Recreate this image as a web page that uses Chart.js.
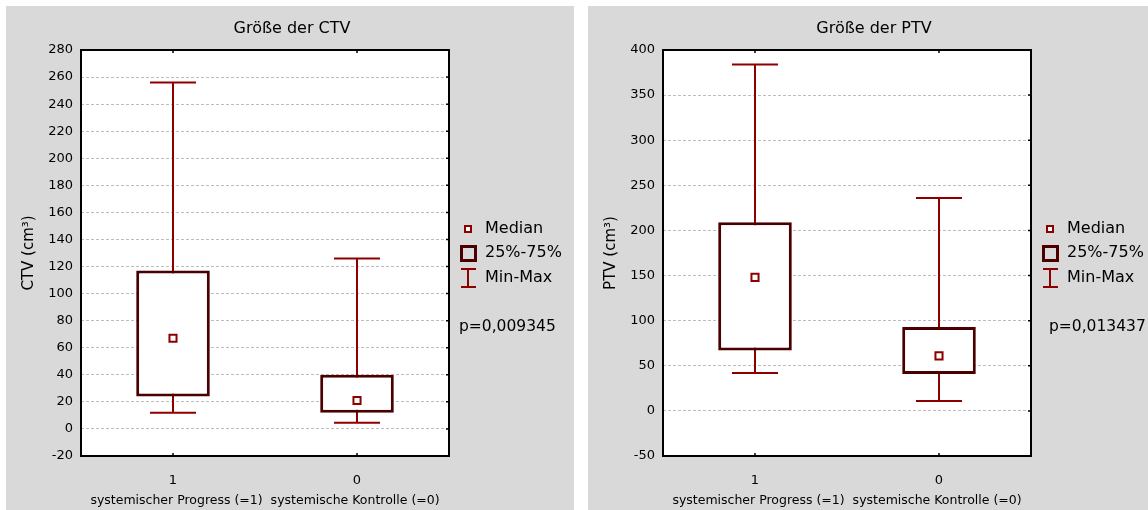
<!DOCTYPE html>
<html>
<head>
<meta charset="utf-8">
<script src="https://cdn.jsdelivr.net/npm/chart.js@4.4.1/dist/chart.umd.min.js"></script>
<style>
  body { margin: 0; background: #fff; width: 1148px; height: 510px; position: relative; overflow: hidden; }
  .panel { position: absolute; top: 6px; background: #d9d9d9; }
  .panel canvas { display: block; }
  #left { left: 6px; width: 568px; height: 504px; }
  #right { left: 588px; width: 560px; height: 504px; }
</style>
</head>
<body>
<div class="panel" id="left"><canvas id="ctvChart" width="568" height="504"></canvas></div>
<div class="panel" id="right"><canvas id="ptvChart" width="560" height="504"></canvas></div>
<script>
const categories = ['1', '0'];
const xTitle = 'systemischer Progress (=1)  systemische Kontrolle (=0)';

// CTV (cm³)
const ctvMin = [12, 4.5];
const ctvQ1 = [24, 12];
const ctvMedian = [67, 21];
const ctvQ3 = [117, 40];
const ctvMax = [256, 126];
const ctvTicks = [-20, 280, 20];

// PTV (cm³)
const ptvMin = [42, 11];
const ptvQ1 = [67, 41];
const ptvMedian = [148, 61];
const ptvQ3 = [209, 93];
const ptvMax = [384, 236];
const ptvTicks = [-50, 400, 50];

const legendLabels = ['Median', '25%-75%', 'Min-Max'];

const font = 'DejaVu Sans';
const boxColor = '#4a0000';
const whiskerColor = '#8e0000';

// plot background, whiskers, frame, legend and title
const boxExtras = {
    id: 'boxExtras',
    beforeDraw(chart) {
        const ctx = chart.ctx;
        const a = chart.chartArea;
        ctx.save();
        ctx.fillStyle = '#fff';
        ctx.fillRect(a.left, a.top, a.right - a.left, a.bottom - a.top);
        ctx.restore();
    },
    beforeDatasetsDraw(chart, args, opts) {
        const ctx = chart.ctx;
        const xs = chart.scales.x, ys = chart.scales.y;
        const capHalf = xs.width / categories.length / 8;
        ctx.save();
        ctx.strokeStyle = whiskerColor;
        ctx.lineWidth = 2;
        opts.mins.forEach((mn, i) => {
            const px = Math.round(xs.getPixelForValue(i));
            const y0 = ys.getPixelForValue(mn);
            const y1 = ys.getPixelForValue(opts.maxs[i]);
            ctx.beginPath();
            ctx.moveTo(px, y0);
            ctx.lineTo(px, y1);
            ctx.moveTo(px - capHalf, y0);
            ctx.lineTo(px + capHalf, y0);
            ctx.moveTo(px - capHalf, y1);
            ctx.lineTo(px + capHalf, y1);
            ctx.stroke();
        });
        ctx.restore();
    },
    afterDraw(chart, args, opts) {
        const ctx = chart.ctx;
        const a = chart.chartArea;
        const xs = chart.scales.x, ys = chart.scales.y;
        ctx.save();
        // frame
        ctx.strokeStyle = '#000';
        ctx.lineWidth = 2;
        ctx.strokeRect(a.left, a.top, a.right - a.left, a.bottom - a.top);
        ctx.lineWidth = 1.5;
        ctx.beginPath();
        ys.ticks.forEach(t => {
            const py = ys.getPixelForValue(t.value);
            ctx.moveTo(a.right - 3, py);
            ctx.lineTo(a.right, py);
        });
        categories.forEach((c, i) => {
            const px = xs.getPixelForValue(i);
            ctx.moveTo(px, a.top);
            ctx.lineTo(px, a.top + 3);
            ctx.moveTo(px, a.bottom);
            ctx.lineTo(px, a.bottom - 3);
        });
        ctx.stroke();

        // title
        ctx.fillStyle = '#000';
        ctx.textBaseline = 'middle';
        ctx.textAlign = 'center';
        ctx.font = '16px "' + font + '"';
        ctx.fillText(opts.title, 286, 23);

        // legend
        const R = a.right;
        ctx.fillStyle = '#fff';
        ctx.strokeStyle = whiskerColor;
        ctx.lineWidth = 2;
        ctx.fillRect(R + 16, 220, 6, 6);
        ctx.strokeRect(R + 16, 220, 6, 6);
        ctx.strokeStyle = boxColor;
        ctx.lineWidth = 3;
        ctx.strokeRect(R + 12.5, 240.5, 14, 14);
        ctx.strokeStyle = whiskerColor;
        ctx.lineWidth = 2;
        ctx.beginPath();
        ctx.moveTo(R + 19, 263); ctx.lineTo(R + 19, 281);
        ctx.moveTo(R + 12, 263); ctx.lineTo(R + 27, 263);
        ctx.moveTo(R + 12, 281); ctx.lineTo(R + 27, 281);
        ctx.stroke();

        ctx.fillStyle = '#000';
        ctx.textAlign = 'left';
        ctx.fillText(legendLabels[0], R + 36, 223);
        ctx.fillText(legendLabels[1], R + 36, 247);
        ctx.fillText(legendLabels[2], R + 36, 272);
        ctx.font = '15.5px "' + font + '"';
        ctx.fillText(opts.pText, R + opts.pOffset, 321);
        ctx.restore();
    }
};

function makeChart(id, title, yLabel, mins, q1, med, q3, maxs, ticks, pText, pOffset, rightPad) {
    const ctx = document.getElementById(id).getContext('2d');
    return new Chart(ctx, {
        type: 'bar',
        data: {
            labels: categories,
            datasets: [{
                type: 'line',
                data: med,
                showLine: false,
                pointStyle: 'rect',
                pointRadius: 5,
                pointBorderWidth: 2,
                pointBorderColor: whiskerColor,
                pointBackgroundColor: '#fff',
                order: 0
            }, {
                data: q1.map((v, i) => [v, q3[i]]),
                backgroundColor: '#fff',
                borderColor: boxColor,
                borderWidth: 3,
                borderSkipped: false,
                categoryPercentage: 1,
                barPercentage: 0.4,
                order: 1
            }]
        },
        options: {
            responsive: false,
            animation: false,
            layout: { padding: { top: 44, right: rightPad, left: 0, bottom: 0 } },
            plugins: {
                legend: { display: false },
                tooltip: { enabled: false },
                boxExtras: { title: title, mins: mins, maxs: maxs, pText: pText, pOffset: pOffset }
            },
            scales: {
                x: {
                    offset: true,
                    grid: { display: false },
                    border: { display: false },
                    ticks: { color: '#000', font: { family: font, size: 13 }, padding: 9 },
                    title: { display: true, text: xTitle, color: '#000',
                             font: { family: font, size: 12.5 }, padding: { top: 0, bottom: 2 } },
                    afterFit(scale) { scale.height = 54; }
                },
                y: {
                    min: ticks[0],
                    max: ticks[1],
                    grid: { color: '#bdbdbd', lineWidth: 1, drawTicks: false },
                    border: { display: false, dash: [3, 2] },
                    ticks: { stepSize: ticks[2], color: '#000', font: { family: font, size: 13 }, padding: 8 },
                    title: { display: true, text: yLabel, color: '#000',
                             font: { family: font, size: 15 }, padding: { top: 14, bottom: 0 } },
                    afterFit(scale) { scale.width = 75; }
                }
            }
        },
        plugins: [boxExtras]
    });
}

document.addEventListener('DOMContentLoaded', () => {
    makeChart('ctvChart', 'Größe der CTV', 'CTV (cm³)', ctvMin, ctvQ1, ctvMedian, ctvQ3, ctvMax, ctvTicks, 'p=0,009345', 10, 125);
    makeChart('ptvChart', 'Größe der PTV', 'PTV (cm³)', ptvMin, ptvQ1, ptvMedian, ptvQ3, ptvMax, ptvTicks, 'p=0,013437', 18, 117);
});
</script>
</body>
</html>
